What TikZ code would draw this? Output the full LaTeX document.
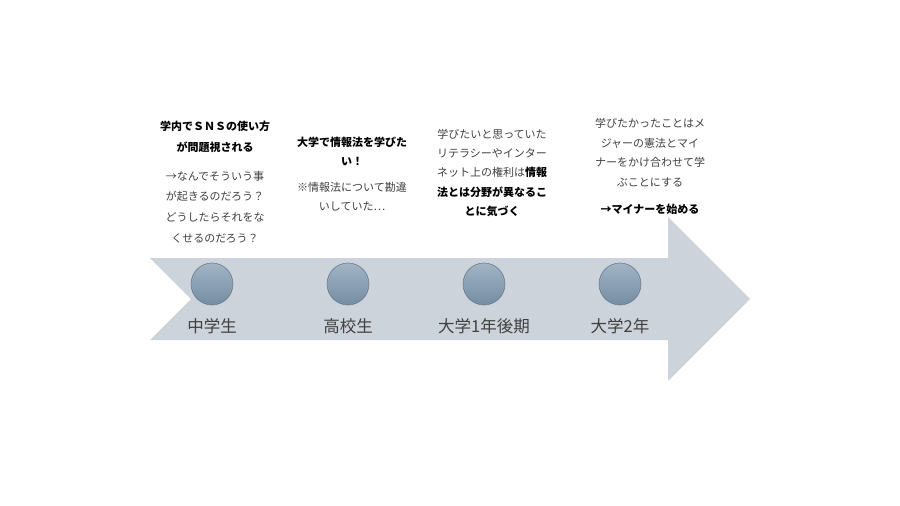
\documentclass[tikz,border=0pt]{standalone}
\usepackage{fontspec}
\setmainfont{Noto Sans CJK JP}
\definecolor{arrowfill}{HTML}{CDD3DA}
\definecolor{dottop}{HTML}{A2B4C5}
\definecolor{dotbot}{HTML}{748DA4}
\definecolor{dotline}{HTML}{6B7D8E}
\definecolor{txt}{HTML}{404040}
\tikzset{
  dot/.style={circle, minimum size=42pt, inner sep=0pt, top color=dottop, bottom color=dotbot, draw=dotline, line width=0.6pt},
  stage/.style={font=\fontsize{16.5}{20}\selectfont, text=txt, inner sep=0pt, anchor=center},
  note/.style={font=\fontsize{11}{19.6}\selectfont, text=txt, align=center, inner sep=0pt, anchor=north},
}
\begin{document}
\begin{tikzpicture}[x=1pt, y=-1pt]
\useasboundingbox[fill=white] (0,0) rectangle (900,506);
% timeline arrow
\fill[arrowfill] (150,258) -- (668,258) -- (668,217) -- (750,299) -- (668,381) -- (668,340) -- (150,340) -- (191,299) -- cycle;
% stages
\node[dot] (d1) at (212,284) {};
\node[dot] (d2) at (348,284) {};
\node[dot] (d3) at (484,284) {};
\node[dot] (d4) at (620,284) {};
\node[stage] (s1) at (212,326) {中学生};
\node[stage] (s2) at (348,326) {高校生};
\node[stage] (s3) at (484,326) {大学1年後期};
\node[stage] (s4) at (620,326) {大学2年};
% notes
\node[note, font=\fontsize{11}{20.6}\selectfont] (n1) at (215,121) {\textbf{\color{black}学内でＳＮＳの使い方}\\\textbf{\color{black}が問題視される}\\[8.4pt]→なんでそういう事\\が起きるのだろう？\\どうしたらそれをな\\くせるのだろう？};
\node[note] (n2) at (352,136.5) {\textbf{\color{black}大学で情報法を学びた}\\\textbf{\color{black}い！}\\[6pt]※情報法について勘違\\いしていた…};
\node[note, font=\fontsize{11}{19.2}\selectfont] (n3) at (492,129) {学びたいと思っていた\\リテラシーやインター\\ネット上の権利は\textbf{\color{black}情報}\\\textbf{\color{black}法とは分野が異なるこ}\\\textbf{\color{black}とに気づく}};
\node[note, font=\fontsize{11}{19.4}\selectfont] (n4) at (650,118.5) {学びたかったことはメ\\ジャーの憲法とマイ\\ナーをかけ合わせて学\\ぶことにする\\[8pt]\textbf{\color{black}→マイナーを始める}};
\end{tikzpicture}
\end{document}
